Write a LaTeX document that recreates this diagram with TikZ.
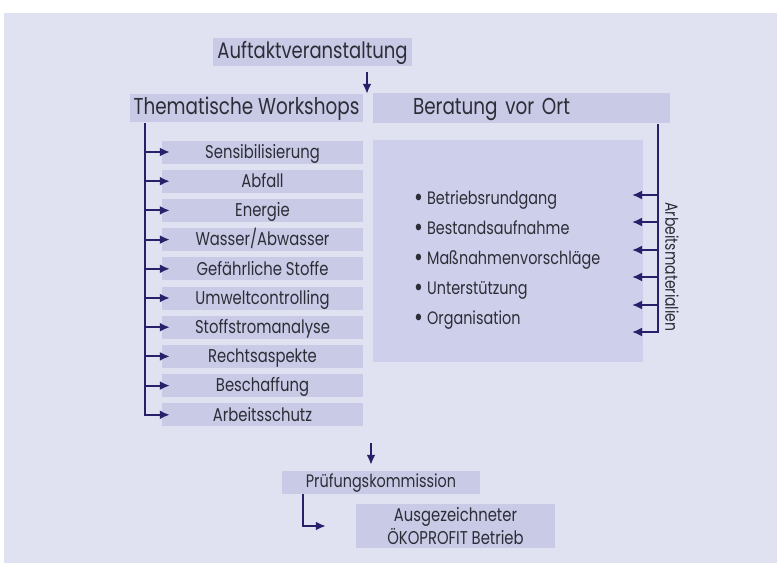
\documentclass[tikz,border=0pt]{standalone}
\usepackage{fontspec}
\setmainfont[FakeStretch=0.8]{Poppins}
\usetikzlibrary{shapes, arrows.meta, positioning}
\definecolor{bgcol}{RGB}{224,226,242}
\definecolor{boxcol}{RGB}{200,202,230}
\definecolor{panelcol}{RGB}{206,207,234}
\definecolor{txtcol}{RGB}{45,45,55}
\definecolor{arrcol}{RGB}{40,32,105}
\newcommand{\dotmark}{\raisebox{-2pt}{\scalebox{1.5}{\textbullet}}\hspace{4pt}}
\tikzstyle{every node}=[text=txtcol]
\tikzstyle{block}=[fill=boxcol,rectangle,inner sep=0pt]
\tikzstyle{head}=[block,minimum height=28pt,text height=18pt,text depth=5pt,font=\fontsize{23}{27}\selectfont]
\tikzstyle{topic}=[block,minimum width=201pt,minimum height=23pt,text height=16.5pt,text depth=4pt,font=\fontsize{18.5}{22}\selectfont]
\tikzstyle{point}=[anchor=base west,inner sep=0pt,font=\fontsize{18}{22}\selectfont]
\tikzstyle{flow}=[->,draw=arrcol,line width=2pt]

\begin{document}
\begin{tikzpicture}[x=1pt,y=-1pt,node distance=29.2pt,>={Latex[length=10pt,width=9pt]}]
  \useasboundingbox (0,0) rectangle (777,563);
  \fill[bgcol] (4,13) rectangle (777,563);
  \node[head,minimum width=199pt,font=\fontsize{22.5}{27}\selectfont] (auftakt) at (312.5,52) {Auftaktveranstaltung};
  \node[head,minimum width=233pt] (workshops) at (246.5,108) {Thematische Workshops};
  \node[head,minimum width=297pt,minimum height=30pt,text width=217pt,inner xsep=40pt,align=left] (beratung) at (521.5,108) {Beratung vor Ort};
  \node[block,fill=panelcol,minimum width=270pt,minimum height=222pt] (vorort) at (508,251) {};
  \node[topic] (sensi) at (262.5,152) {Sensibilisierung};
  \node[topic,below of=sensi] (abfall) {Abfall};
  \node[topic,below of=abfall] (energie) {Energie};
  \node[topic,below of=energie] (wasser) {Wasser/Abwasser};
  \node[topic,below of=wasser] (stoffe) {Gefährliche Stoffe};
  \node[topic,below of=stoffe] (controlling) {Umweltcontrolling};
  \node[topic,below of=controlling] (analyse) {Stoffstromanalyse};
  \node[topic,below of=analyse] (recht) {Rechtsaspekte};
  \node[topic,below of=recht] (beschaffung) {Beschaffung};
  \node[topic,below of=beschaffung] (schutz) {Arbeitsschutz};
  \node[point] (rundgang) at (414,204) {\dotmark Betriebsrundgang};
  \node[point] (bestand) at (414,234) {\dotmark Bestandsaufnahme};
  \node[point] (massnahmen) at (414,264) {\dotmark Maßnahmenvorschläge};
  \node[point] (hilfe) at (414,294) {\dotmark Unterstützung};
  \node[point] (orga) at (414,324) {\dotmark Organisation};
  \node[rotate=-90,font=\fontsize{17.5}{21}\selectfont] (material) at (672,267) {Arbeitsmaterialien};
  \node[block,minimum width=198pt,minimum height=23pt,text height=14pt,text depth=4.5pt,font=\fontsize{18}{22}\selectfont] (pruefung) at (381,482.5) {Prüfungskommission};
  \node[block,minimum width=199pt,minimum height=44pt,align=center,font=\fontsize{18.5}{20}\selectfont] (oekoprofit) at (455.5,526) {Ausgezeichneter\\ÖKOPROFIT Betrieb};
  \coordinate (auftaktdown) at (367,72);
  \draw[flow] (auftaktdown) -- (auftaktdown |- workshops.north);
  \coordinate (wstop) at (145,123);
  \draw[flow] (wstop) |- ([xshift=8pt]sensi.west);
  \draw[flow] (wstop) |- ([xshift=8pt]abfall.west);
  \draw[flow] (wstop) |- ([xshift=8pt]energie.west);
  \draw[flow] (wstop) |- ([xshift=8pt]wasser.west);
  \draw[flow] (wstop) |- ([xshift=8pt]stoffe.west);
  \draw[flow] (wstop) |- ([xshift=8pt]controlling.west);
  \draw[flow] (wstop) |- ([xshift=8pt]analyse.west);
  \draw[flow] (wstop) |- ([xshift=8pt]recht.west);
  \draw[flow] (wstop) |- ([xshift=8pt]beschaffung.west);
  \draw[flow] (wstop) |- ([xshift=8pt]schutz.west);
  \coordinate (amtop) at (658,124);
  \coordinate (am1) at (632,195);
  \coordinate (am2) at (632,222);
  \coordinate (am3) at (632,250);
  \coordinate (am4) at (632,277);
  \coordinate (am5) at (632,305);
  \coordinate (am6) at (632,332);
  \draw[flow] (amtop) |- (am1);
  \draw[flow] (amtop) |- (am2);
  \draw[flow] (amtop) |- (am3);
  \draw[flow] (amtop) |- (am4);
  \draw[flow] (amtop) |- (am5);
  \draw[flow] (amtop) |- (am6);
  \coordinate (pruefdown) at (371,443);
  \draw[flow,shorten >=6pt] (pruefdown) -- (pruefdown |- pruefung.north);
  \coordinate (pruefleft) at (303,494);
  \draw[flow,shorten >=30pt] (pruefleft) |- (oekoprofit.west);
\end{tikzpicture}
\end{document}
